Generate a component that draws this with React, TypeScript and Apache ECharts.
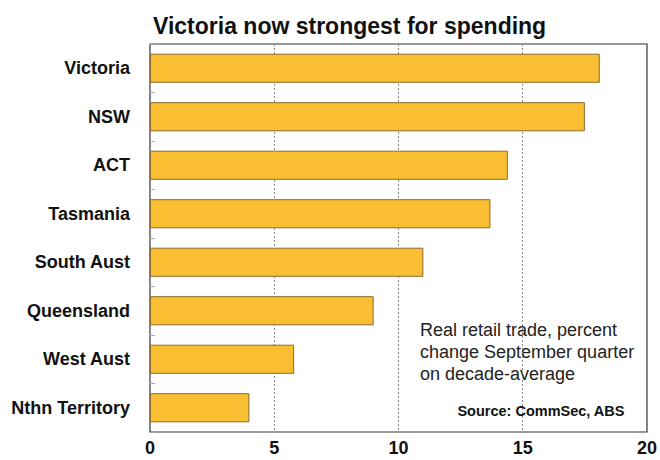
import React, { useEffect, useRef } from "react";
import * as echarts from "echarts";

const categories = ["Victoria", "NSW", "ACT", "Tasmania", "South Aust", "Queensland", "West Aust", "Nthn Territory"];
const values = [18.1, 17.5, 14.4, 13.7, 11.0, 9.0, 5.8, 4.0];
const xTicks = [0, 5, 10, 15, 20];
const title = "Victoria now strongest for spending";
const noteLines = ["Real retail trade, percent", "change September quarter", "on decade-average"];
const source = "Source: CommSec, ABS";

const FONT = "'Liberation Sans', Arial, sans-serif";

export default function App() {
  const ref = useRef<HTMLDivElement>(null);
  useEffect(() => {
    if (!ref.current) return;
    const chart = echarts.init(ref.current, null, { renderer: "svg" });
    chart.setOption({
      animation: false,
      backgroundColor: "#ffffff",
      title: {
        text: title,
        left: 148,
        top: 9,
        textStyle: { fontFamily: FONT, fontSize: 23, fontWeight: "bold", color: "#111" },
      },
      grid: {
        left: 150,
        right: 8,
        top: 44,
        bottom: 28,
        show: true,
        borderColor: "#333",
        borderWidth: 1.2,
        backgroundColor: "transparent",
      },
      xAxis: {
        type: "value",
        min: xTicks[0],
        max: xTicks[xTicks.length - 1],
        interval: 5,
        axisLine: { show: false },
        axisTick: { show: false },
        axisLabel: {
          fontFamily: FONT,
          fontSize: 18,
          fontWeight: "bold",
          color: "#111",
          margin: 7,
        },
        splitLine: { show: true, lineStyle: { color: "#888", type: [2, 2], width: 1 } },
      },
      yAxis: {
        type: "category",
        data: categories,
        inverse: true,
        axisLine: { show: false },
        axisTick: { show: true, inside: true, length: 5, lineStyle: { color: "#aaa" } },
        axisLabel: {
          fontFamily: FONT,
          fontSize: 18,
          fontWeight: "bold",
          color: "#111",
          margin: 20,
        },
        splitLine: { show: false },
      },
      series: [
        {
          type: "bar",
          data: values,
          barWidth: "60%",
          itemStyle: { color: "#F9BE32", borderColor: "#8C6A2E", borderWidth: 1 },
          silent: true,
        },
      ],
      graphic: [
        ...noteLines.map((t, i) => ({
          type: "text",
          left: 420,
          top: 321 + i * 22,
          style: { text: t, fontFamily: FONT, fontSize: 18, fill: "#222" },
        })),
        {
          type: "text",
          right: 35,
          top: 403,
          style: { text: source, fontFamily: FONT, fontSize: 14.5, fontWeight: "bold", fill: "#111" },
        },
      ],
    });
    return () => chart.dispose();
  }, []);
  return <div ref={ref} style={{ position: "absolute", left: 0, top: 0, width: 660, height: 460 }} />;
}
